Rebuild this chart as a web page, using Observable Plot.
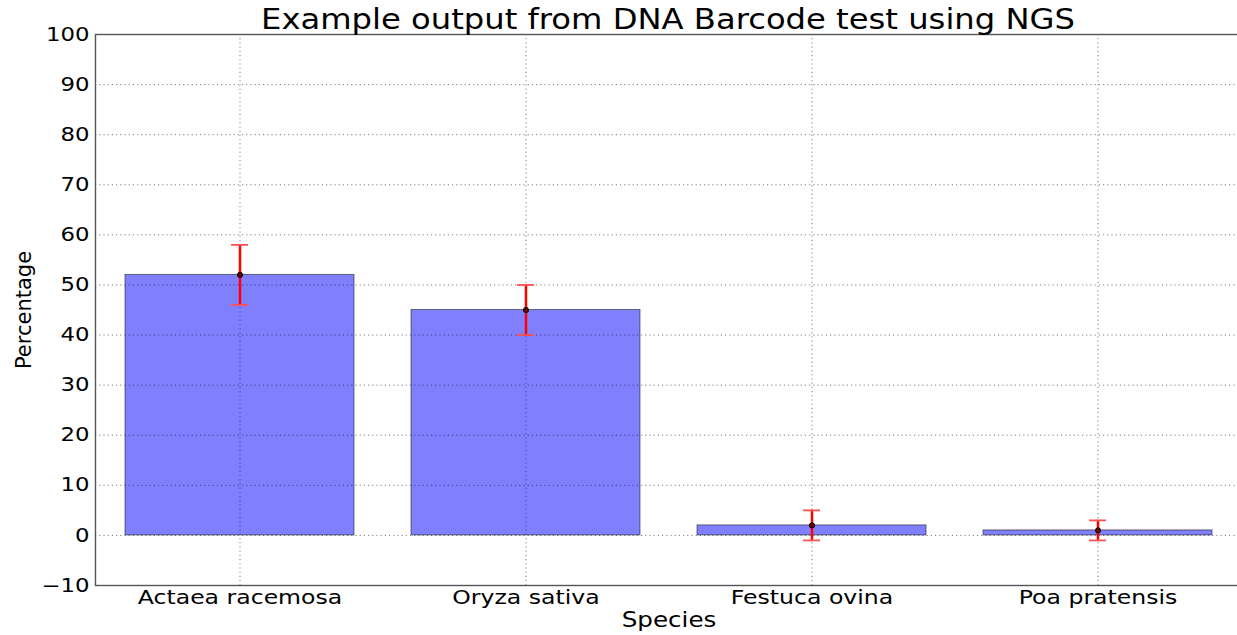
<!DOCTYPE html>
<html>
<head>
<meta charset="utf-8">
<script src="https://cdn.jsdelivr.net/npm/d3@7"></script>
<script src="https://cdn.jsdelivr.net/npm/@observablehq/plot@0.6"></script>
<style>
  html, body { margin: 0; padding: 0; background: #fff; overflow: hidden; }
  body { width: 1237px; height: 635px; position: relative; font-family: "DejaVu Sans", sans-serif; }
  #title { position: absolute; top: 6px; left: 668px; font-size: 28.5px; line-height: 1; white-space: nowrap;
           transform: translateX(-50%) scaleX(1.13); color: #000; z-index: 2; }
  #chart { position: absolute; top: 24px; left: 0; z-index: 1; }
</style>
</head>
<body>
<div id="title">Example output from DNA Barcode test using NGS</div>
<div id="chart"></div>
<script>
const species = ["Actaea racemosa", "Oryza sativa", "Festuca ovina", "Poa pratensis"];
const percentage = [52, 45, 2, 1];
const errorLow = [46, 40, -1, -1];
const errorHigh = [58, 50, 5, 3];
const yTicks = [-10, 0, 10, 20, 30, 40, 50, 60, 70, 80, 90, 100];
const xLabel = "Species";
const yLabel = "Percentage";

const rows = species.map((s, i) => ({species: s, value: percentage[i], lo: errorLow[i], hi: errorHigh[i]}));

const gridStyle = {stroke: "#000", strokeOpacity: 0.5, strokeWidth: 1, strokeDasharray: "1.2,3"};
const capInset = 106;

const chart = Plot.plot({
  width: 1242,
  height: 611,
  marginTop: 10,
  marginBottom: 50,
  marginLeft: 95,
  marginRight: 0,
  style: {fontFamily: "DejaVu Sans", fontSize: "19px", color: "#000", background: "white", maxWidth: "none", overflow: "visible"},
  x: {type: "band", domain: species, paddingInner: 0.2, paddingOuter: 0.1, label: null},
  y: {domain: [-10, 100], label: null},
  marks: [
    Plot.barY(rows, {x: "species", y: "value", fill: "#8080ff", stroke: "#000", strokeOpacity: 0.5, strokeWidth: 1}),
    Plot.gridY(yTicks, gridStyle),
    Plot.gridX(species, gridStyle),
    Plot.ruleX(rows, {x: "species", y1: "lo", y2: "hi", stroke: "#ff0000", strokeWidth: 2.5}),
    Plot.tickY(rows, {x: "species", y: "lo", stroke: "#ff5050", strokeWidth: 1.8, insetLeft: capInset, insetRight: capInset}),
    Plot.tickY(rows, {x: "species", y: "hi", stroke: "#ff5050", strokeWidth: 1.8, insetLeft: capInset, insetRight: capInset}),
    Plot.dot(rows, {x: "species", y: "value", r: 2.6, fill: "#700000", stroke: "#000", strokeWidth: 1}),
    Plot.frame({stroke: "#555", strokeWidth: 1.4}),
    Plot.axisY({ticks: yTicks, tickSize: 0, tickPadding: 6, label: null}),
    Plot.axisX({tickSize: 0, tickPadding: 5, label: null}),
    Plot.text([xLabel], {frameAnchor: "bottom", lineAnchor: "top", dy: 27, fontSize: 20.5, text: d => d, ariaLabel: "xlabel"}),
    Plot.text([yLabel], {frameAnchor: "left", dx: -71, rotate: -90, textAnchor: "middle", lineAnchor: "middle", fontSize: 21, text: d => d, ariaLabel: "ylabel"})
  ]
});

document.getElementById("chart").appendChild(chart);

// The reference figure is horizontally stretched; widen non-rotated texts accordingly.
chart.querySelectorAll("text").forEach(t => {
  const tr = t.getAttribute("transform") || "";
  if (/rotate/.test(tr)) return;
  const g = t.closest("g[aria-label]");
  const kind = g ? g.getAttribute("aria-label") : "";
  const S = /x-axis/.test(kind) ? 1.24 : 1.2;
  const len = t.getComputedTextLength();
  if (len > 0) {
    t.setAttribute("textLength", len * S);
    t.setAttribute("lengthAdjust", "spacingAndGlyphs");
  }
});
</script>
</body>
</html>
